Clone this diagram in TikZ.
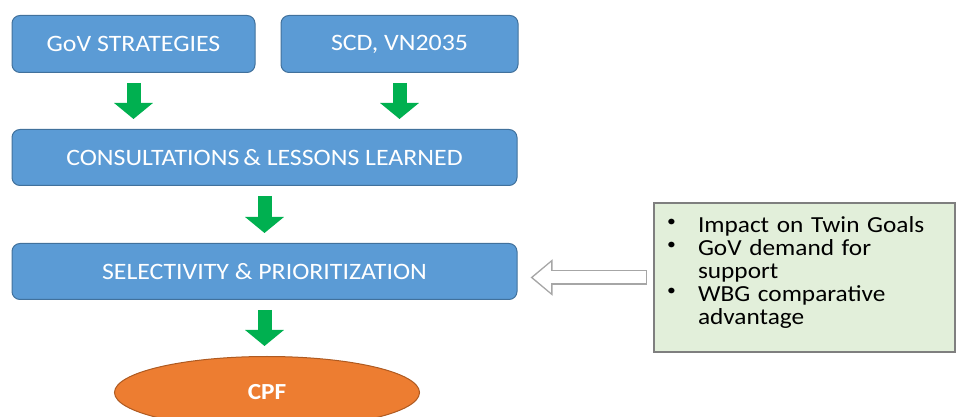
\documentclass[tikz,border=0pt]{standalone}
\usepackage{fontspec}
\setmainfont{Carlito}[FakeStretch=1.1]
\usetikzlibrary{arrows.meta, positioning, shapes.geometric}
\definecolor{boxblue}{RGB}{91,155,213}
\definecolor{boxedge}{RGB}{65,113,156}
\definecolor{flowgreen}{RGB}{0,176,80}
\definecolor{cpforange}{RGB}{237,125,49}
\definecolor{cpfedge}{RGB}{174,90,33}
\definecolor{critfill}{RGB}{226,239,218}
\definecolor{critedge}{RGB}{127,127,127}
\definecolor{hollowgray}{RGB}{166,166,166}
\newcommand{\critdot}{\makebox[7pt]{\raisebox{6pt}{\fontsize{16}{16}\selectfont\textbullet}}}

\begin{document}
\begin{tikzpicture}[
  x=1pt, y=1pt,
  stage/.style={rectangle, rounded corners=8pt, draw=boxedge, line width=1pt, fill=boxblue,
                text=white, font=\fontsize{23.5}{26}\selectfont, inner sep=0pt, minimum height=57pt},
  outcome/.style={ellipse, draw=cpfedge, line width=1pt, fill=cpforange, text=white,
                  font=\fontsize{23}{26}\selectfont\bfseries, inner sep=0pt, minimum width=305pt, minimum height=72pt},
  criteria/.style={rectangle, draw=critedge, line width=2pt, fill=critfill, text=black,
                   font=\fontsize{23}{23}\selectfont, align=left, inner xsep=14pt, text width=273pt,
                   minimum height=149pt},
  flow/.style={line width=14pt, draw=flowgreen, -{Triangle[length=16pt, width=38pt]},
               shorten <=10pt, shorten >=10pt},
  hollowedge/.style={line width=15pt, draw=hollowgray, -{Triangle[length=22pt, width=35pt]},
                     shorten <=6pt, shorten >=13pt},
  hollowfill/.style={line width=12pt, draw=white, -{Triangle[length=18pt, width=29pt]},
                     shorten <=7.5pt, shorten >=15.4pt}
]
\useasboundingbox (0,0) rectangle (957,417);

\node[stage, minimum width=243pt] (gov) at (133.5,373) {GoV STRATEGIES};
\node[stage, minimum width=237pt] (scd) [right=25pt of gov] {SCD, VN2035};
\node[stage, minimum width=505pt, minimum height=56pt] (cons) [below=56pt of gov.south west, anchor=north west] {CONSULTATIONS\,\& LESSONS LEARNED};
\node[stage, minimum width=505pt, minimum height=56pt] (sel) [below=57pt of cons.south west, anchor=north west] {SELECTIVITY \& PRIORITIZATION};
\node[outcome] (cpf) [below=56pt of sel.south, xshift=2.5pt] {CPF};
\node[criteria] (crit) at (804.5,139.5) {%
  \begin{tabular}{@{}l@{\hspace{23pt}}l@{}}
    \critdot & Impact on Twin Goals\\
    \critdot & GoV demand for\\
             & support\\
    \critdot & WBG comparative\\
             & advantage
  \end{tabular}\par\vspace{7pt}};

\draw[flow] (gov.south) -- (gov.south |- cons.north);
\draw[flow] (scd.south) -- (scd.south |- cons.north);
\draw[flow] (cons.south) -- (sel.north);
\draw[flow] (sel.south) -- (sel.south |- cpf.north);

\draw[hollowedge] (crit.west) -- (crit.west -| sel.east);
\draw[hollowfill] (crit.west) -- (crit.west -| sel.east);
\end{tikzpicture}
\end{document}
